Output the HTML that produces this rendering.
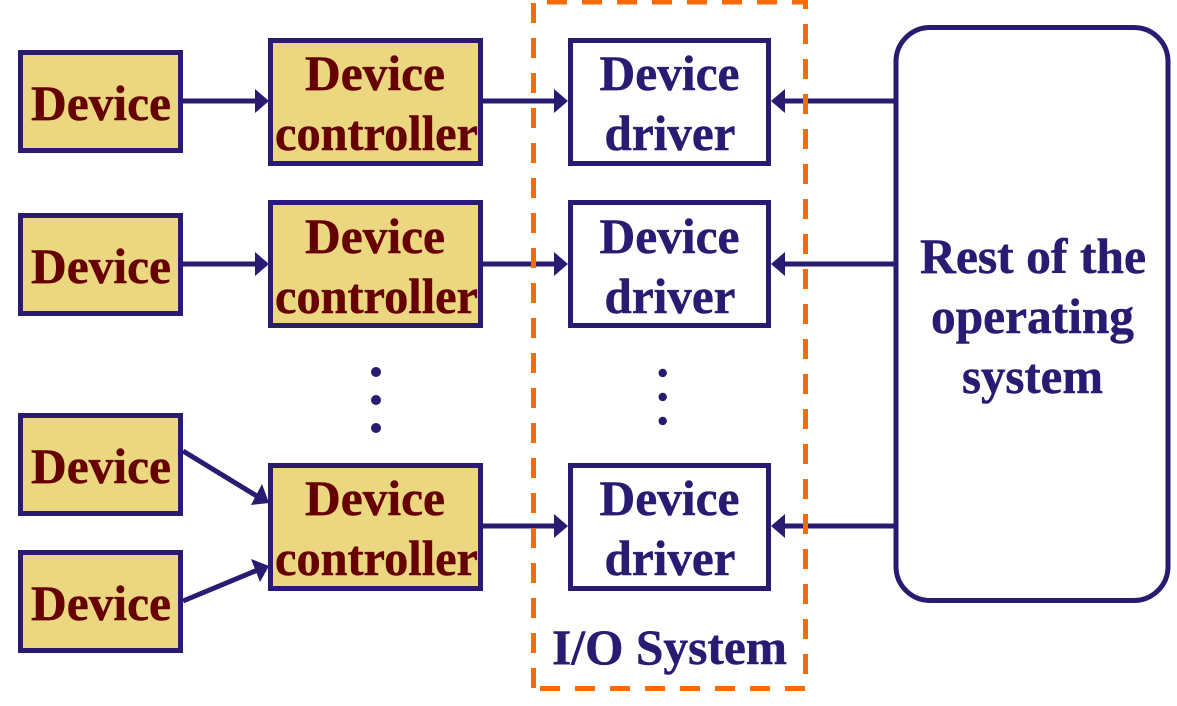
<!DOCTYPE html>
<html><head><meta charset="utf-8"><style>
html,body{margin:0;padding:0;background:#fff}
svg{display:block}
text{font-family:"Liberation Serif",serif;font-weight:bold;font-size:50px;text-anchor:middle;stroke-width:.5px}
.m{fill:#660000;stroke:#660000}.b{fill:#2a1a72;stroke:#2a1a72}
.d{fill:#ebd780;stroke:#2a1a72;stroke-width:5}
.w{fill:#fff;stroke:#2a1a72;stroke-width:5}
.l{stroke:#2a1a72;stroke-width:5;fill:none}
.o{stroke:#ff6a00;stroke-width:5;fill:none;stroke-dasharray:20 15}
.a{fill:#2a1a72}
</style></head><body>
<svg width="1177" height="706" viewBox="0 0 1177 706" xmlns="http://www.w3.org/2000/svg">
<rect width="1177" height="706" fill="#fff"/>
<line class="l" x1="183" y1="101" x2="260" y2="101"/><polygon class="a" points="269,101 255,89 255,113"/>
<line class="l" x1="183" y1="264" x2="260" y2="264"/><polygon class="a" points="269,264 255,252 255,276"/>
<line class="l" x1="183" y1="451" x2="260" y2="498"/><polygon class="a" points="269,503 251,505 262,484"/>
<line class="l" x1="183" y1="601" x2="260" y2="569"/><polygon class="a" points="269,566 251,559 260,582"/>
<line class="l" x1="483" y1="101" x2="560" y2="101"/><polygon class="a" points="568,101 554,89 554,113"/>
<line class="l" x1="483" y1="264" x2="560" y2="264"/><polygon class="a" points="568,264 554,252 554,276"/>
<line class="l" x1="483" y1="526" x2="560" y2="526"/><polygon class="a" points="568,526 554,514 554,538"/>
<line class="l" x1="780" y1="101" x2="895" y2="101"/><polygon class="a" points="771,101 785,89 785,113"/>
<line class="l" x1="780" y1="264" x2="895" y2="264"/><polygon class="a" points="771,264 785,252 785,276"/>
<line class="l" x1="780" y1="526" x2="895" y2="526"/><polygon class="a" points="771,526 785,514 785,538"/>
<line class="o" x1="533.5" y1="3" x2="533.5" y2="691"/>
<line class="o" x1="547" y1="2" x2="805" y2="2"/>
<line class="o" x1="805.5" y1="24" x2="805.5" y2="675"/>
<line class="o" x1="540" y1="688.5" x2="808" y2="688.5"/>
<line x1="805.5" y1="0" x2="805.5" y2="9" stroke="#ff6a00" stroke-width="5"/>
<g>
<rect class="d" x="20.5" y="52.5" width="160" height="98"/>
<rect class="d" x="20.5" y="215.5" width="160" height="98"/>
<rect class="d" x="20.5" y="415.5" width="160" height="98"/>
<rect class="d" x="20.5" y="552.5" width="160" height="98"/>
<rect class="d" x="270.5" y="40.5" width="210" height="123"/>
<rect class="d" x="270.5" y="202.5" width="210" height="123"/>
<rect class="d" x="270.5" y="465.5" width="210" height="123"/>
<rect class="w" x="570.5" y="40.5" width="198" height="123"/>
<rect class="w" x="570.5" y="202.5" width="198" height="123"/>
<rect class="w" x="570.5" y="465.5" width="198" height="123"/>
<rect class="w" x="896" y="27.5" width="272" height="573" rx="34" ry="34"/>
</g>
<circle class="a" cx="376" cy="372" r="5"/><circle class="a" cx="376" cy="400" r="5"/><circle class="a" cx="376" cy="428" r="5"/>
<circle class="a" cx="662.7" cy="373" r="4.2"/><circle class="a" cx="662.7" cy="397" r="4.2"/><circle class="a" cx="662.7" cy="421" r="4.2"/>
<text class="m" x="101" y="120" textLength="140" lengthAdjust="spacingAndGlyphs">Device</text>
<text class="m" x="101" y="283" textLength="140" lengthAdjust="spacingAndGlyphs">Device</text>
<text class="m" x="101" y="483" textLength="140" lengthAdjust="spacingAndGlyphs">Device</text>
<text class="m" x="101" y="620" textLength="140" lengthAdjust="spacingAndGlyphs">Device</text>
<text class="m" x="375" y="90" textLength="140" lengthAdjust="spacingAndGlyphs">Device</text><text class="m" x="376.5" y="150" textLength="203" lengthAdjust="spacingAndGlyphs">controller</text>
<text class="m" x="375" y="253" textLength="140" lengthAdjust="spacingAndGlyphs">Device</text><text class="m" x="376.5" y="313" textLength="203" lengthAdjust="spacingAndGlyphs">controller</text>
<text class="m" x="375" y="515" textLength="140" lengthAdjust="spacingAndGlyphs">Device</text><text class="m" x="376.5" y="575" textLength="203" lengthAdjust="spacingAndGlyphs">controller</text>
<text class="b" x="669.5" y="90" textLength="140" lengthAdjust="spacingAndGlyphs">Device</text><text class="b" x="670" y="150" textLength="131" lengthAdjust="spacingAndGlyphs">driver</text>
<text class="b" x="669.5" y="253" textLength="140" lengthAdjust="spacingAndGlyphs">Device</text><text class="b" x="670" y="313" textLength="131" lengthAdjust="spacingAndGlyphs">driver</text>
<text class="b" x="669.5" y="515" textLength="140" lengthAdjust="spacingAndGlyphs">Device</text><text class="b" x="670" y="575" textLength="131" lengthAdjust="spacingAndGlyphs">driver</text>
<text class="b" x="669.5" y="664" textLength="235" lengthAdjust="spacingAndGlyphs">I/O System</text>
<text class="b" x="1033" y="273" textLength="226" lengthAdjust="spacingAndGlyphs">Rest of the</text>
<text class="b" x="1032.5" y="333" textLength="203" lengthAdjust="spacingAndGlyphs">operating</text>
<text class="b" x="1032.5" y="393" textLength="141" lengthAdjust="spacingAndGlyphs">system</text>
</svg>
</body></html>
